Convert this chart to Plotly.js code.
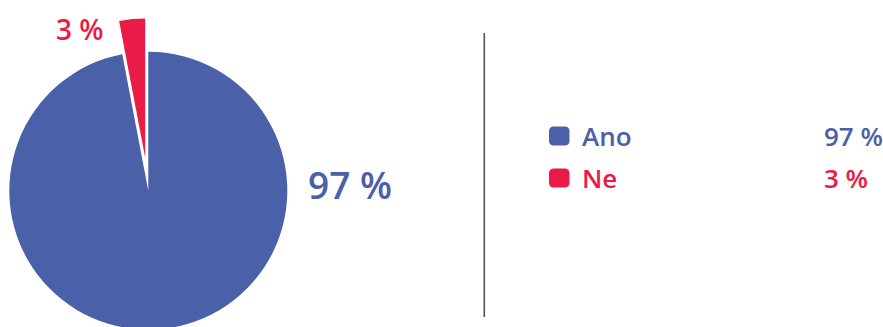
<!DOCTYPE html>
<html>
<head>
<meta charset="utf-8">
<script src="https://cdn.plot.ly/plotly-3.0.1.min.js"></script>
<style>
html,body{margin:0;padding:0;overflow:hidden;background:#fff;width:883px;height:327px;}
#chart{position:absolute;left:-40px;top:0;width:960px;height:400px;}
</style>
</head>
<body>
<div id="chart"></div>
<script>
const categories = ["Ano", "Ne"];
const values = [97, 3];
const valueLabels = ["97 %", "3 %"];
const colors = ["#4a60a9", "#e91c47"];
const pulls = [0, 0.24];

const W = 960, H = 400, OFF = 40;
const X = sx => (sx + OFF) / W;
const Y = sy => 1 - sy / H;
const FONT = "Open Sans, Noto Sans, sans-serif";

// pie geometry (screen px)
const cx = 148.3, cy = 190.7, r = 139;
const half = r * (1 + Math.max(...pulls));

const trace = {
  type: "pie",
  labels: categories,
  values: values,
  sort: false,
  direction: "clockwise",
  rotation: 0,
  pull: pulls,
  marker: {colors: colors, line: {width: 0}},
  textinfo: "none",
  hoverinfo: "skip",
  showlegend: false,
  domain: {x: [X(cx - half), X(cx + half)], y: [Y(cy + half), Y(cy - half)]}
};

const annotations = [
  {text: valueLabels[1], x: X(54), y: Y(29), xanchor: "left", yanchor: "middle", font: {size: 28, color: colors[1]}},
  {text: valueLabels[0], x: X(306), y: Y(184), xanchor: "left", yanchor: "middle", font: {size: 37, color: colors[0]}}
];
const shapes = [
  {type: "line", xref: "paper", yref: "paper", x0: X(484.3), x1: X(484.3), y0: Y(33), y1: Y(317), line: {color: "#555", width: 1.6}}
];

const rowY = [136, 178];
categories.forEach((c, i) => {
  const x0 = 549, x1 = 569.5, y0 = rowY[i] - 9.5, y1 = rowY[i] + 9.5, rr = 5;
  const p = `M ${X(x0+rr)} ${Y(y0)} L ${X(x1-rr)} ${Y(y0)} Q ${X(x1)} ${Y(y0)} ${X(x1)} ${Y(y0+rr)} L ${X(x1)} ${Y(y1-rr)} Q ${X(x1)} ${Y(y1)} ${X(x1-rr)} ${Y(y1)} L ${X(x0+rr)} ${Y(y1)} Q ${X(x0)} ${Y(y1)} ${X(x0)} ${Y(y1-rr)} L ${X(x0)} ${Y(y0+rr)} Q ${X(x0)} ${Y(y0)} ${X(x0+rr)} ${Y(y0)} Z`;
  shapes.push({type: "path", xref: "paper", yref: "paper", path: p, fillcolor: colors[i], line: {width: 0}});
  annotations.push({text: c, x: X(580), y: Y(rowY[i]), xanchor: "left", yanchor: "middle", font: {size: 26, color: colors[i]}});
  annotations.push({text: valueLabels[i], x: X(822), y: Y(rowY[i]), xanchor: "left", yanchor: "middle", font: {size: 26, color: colors[i]}});
});
annotations.forEach(a => { a.xref = "paper"; a.yref = "paper"; a.showarrow = false; a.font.family = FONT; a.font.weight = 600; });

Plotly.newPlot("chart", [trace], {
  width: W, height: H,
  margin: {l: 0, r: 0, t: 0, b: 0},
  paper_bgcolor: "#fff",
  showlegend: false,
  font: {family: FONT},
  annotations: annotations,
  shapes: shapes
}, {staticPlot: true});
</script>
</body>
</html>
